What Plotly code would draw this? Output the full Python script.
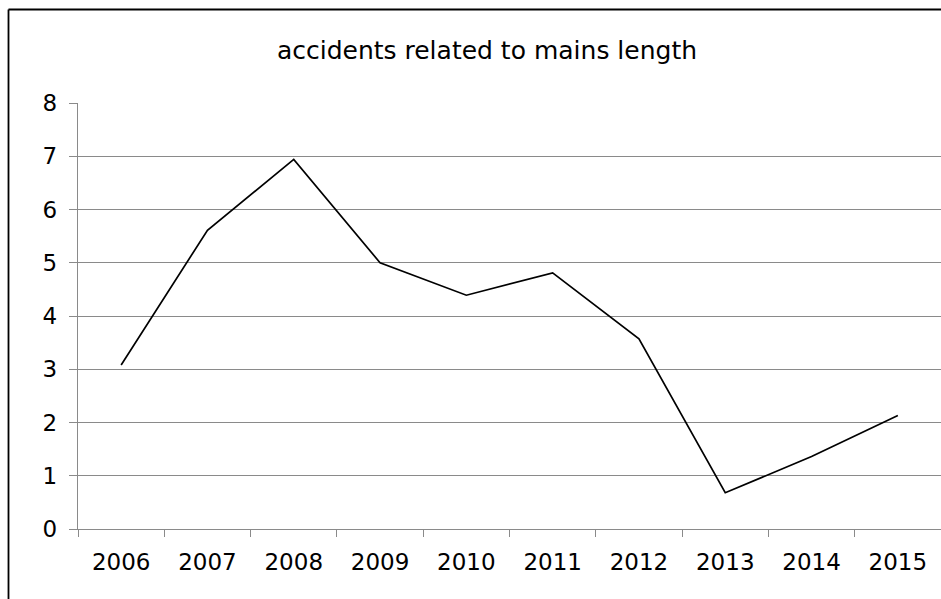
import plotly.graph_objects as go

# Yearly accident rate relative to mains length
years = ["2006", "2007", "2008", "2009", "2010", "2011", "2012", "2013", "2014", "2015"]
accidents = [3.08, 5.61, 6.94, 5.0, 4.39, 4.81, 3.57, 0.68, 1.36, 2.13]
y_ticks = [0, 1, 2, 3, 4, 5, 6, 7, 8]

GRID = "#8a8a8a"
FONT = "DejaVu Sans"

fig = go.Figure(
    go.Scatter(
        x=years,
        y=accidents,
        mode="lines",
        line=dict(color="black", width=1.7),
        hoverinfo="x+y",
    )
)

fig.update_layout(
    width=941,
    height=599,
    margin=dict(l=78, r=0, t=103, b=70),
    paper_bgcolor="white",
    plot_bgcolor="white",
    showlegend=False,
    font=dict(family=FONT, color="black", size=23),
    title=dict(
        text="accidents related to mains length",
        font=dict(family=FONT, size=25, color="black"),
        x=0.5175,
        xanchor="center",
        xref="container",
        y=1 - 50 / 599,
        yanchor="middle",
        yref="container",
    ),
    xaxis=dict(
        type="category",
        range=[-0.5, 9.5],
        showgrid=False,
        showline=True,
        linecolor=GRID,
        linewidth=1.3,
        ticks="outside",
        tickson="boundaries",
        ticklen=7,
        tickcolor=GRID,
        tickwidth=1.3,
        tickfont=dict(family=FONT, size=23, color="black"),
        ticklabelstandoff=12,
        zeroline=False,
    ),
    yaxis=dict(
        range=[0, 8],
        tickvals=y_ticks,
        showgrid=True,
        gridcolor=GRID,
        gridwidth=1.3,
        showline=True,
        linecolor=GRID,
        linewidth=1.3,
        ticks="outside",
        ticklen=8,
        tickcolor=GRID,
        tickwidth=1.3,
        tickfont=dict(family=FONT, size=23, color="black"),
        ticklabelstandoff=7,
        zeroline=False,
    ),
)

# Outer chart frame (left and top edges)
fx = (8.5 - 78) / 863
fy = (529 - 9.5) / 426
fig.add_shape(type="line", xref="paper", yref="paper", x0=fx, x1=fx, y0=-0.3, y1=fy,
              line=dict(color="black", width=1.8))
fig.add_shape(type="line", xref="paper", yref="paper", x0=fx, x1=1.2, y0=fy, y1=fy,
              line=dict(color="black", width=1.8))

fig.write_html("out.html")
